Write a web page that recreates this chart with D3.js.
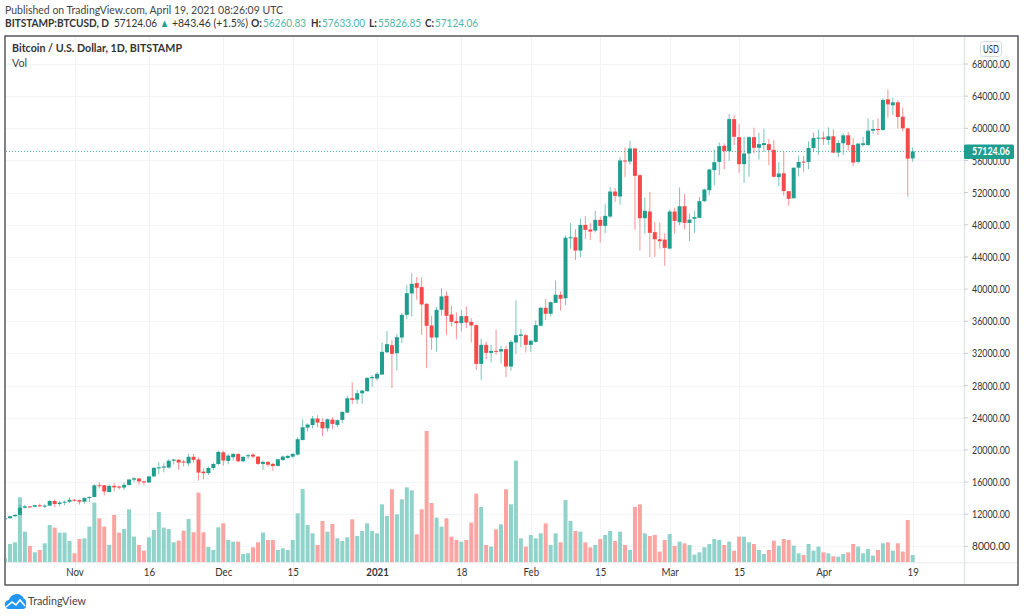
<!DOCTYPE html>
<html>
  <head>
    <meta charset="utf-8">
    <script src="https://d3js.org/d3.v7.min.js"></script>
    <style>
      html, body { margin: 0; background: #fff; }
      svg { display: block; font-family: Lato, "Noto Sans", sans-serif; }
      .axis path, .axis line { display: none; }
      .axis text { fill: #333; font-size: 11px; font-family: Lato, "Noto Sans", sans-serif; }
    </style>
  </head>
  <body>
    <div id="chart"></div>
    <script>
      // daily candles, 18 Oct 2020 to 19 Apr 2021
      var opens = [
        11400,11510,11750,11920,12810,12980,12930,13120,13030,13070,
        13650,13270,13450,13560,13800,13750,13560,14030,14150,15610,
        15600,14760,15530,15450,15320,15640,16300,16450,16090,15950,
        16700,17770,17800,17800,18650,18780,18560,18330,19150,18800,
        17300,17120,17750,18250,19700,18630,19090,19500,18590,19210,
        19420,19170,18260,18510,18260,18010,18750,19000,19170,19420,
        21240,22775,23100,23900,23480,22690,23770,23110,23730,24640,
        26430,26260,27050,27300,28920,28880,29370,32150,33030,32030,
        33980,36800,39460,40750,40250,38170,35480,33980,37430,39170,
        36850,36020,35770,36640,35930,35520,30700,33070,32070,32320,
        32240,32530,30370,33360,34190,34270,33070,33440,35440,37680,
        36930,38300,39300,38860,46400,46450,44800,47990,47410,47280,
        48610,47870,49030,52140,51520,56000,55880,57490,54170,48820,
        49650,47080,46200,46160,45040,49650,48320,50310,48240,48740,
        48860,50940,52310,54800,55830,57830,57160,61150,58900,55540,
        56870,58900,57580,57910,58030,57330,53930,54400,52180,51300,
        55100,55860,55820,57560,58720,58840,58550,59010,56980,58140,
        59130,57930,55820,57930,57930,59710,59920,59790,63600,62860,
        63230,61450,60000,56260.83
      ]
      var highs = [
        11550,11820,11990,13210,13190,13030,13170,13340,13250,13780,
        13850,13650,13700,14100,13890,13830,14080,14240,15750,15970,
        15650,15680,15880,15550,15950,16350,16600,16500,16180,16800,
        17850,18480,18350,18850,18900,18800,18770,19510,19510,19050,
        17720,17950,18420,19880,19900,19500,19590,19590,19250,19500,
        19590,19250,18670,18590,18420,18900,19300,19400,19600,21580,
        23810,23300,24230,24310,23900,23900,24100,23810,24810,26720,
        28420,27470,27470,29040,29290,29710,33360,34810,33690,34440,
        37010,40500,41990,41490,41490,38260,36680,37760,40120,39710,
        37930,37100,37430,37840,36390,35640,33860,33480,33070,34940,
        32950,32950,33690,38590,35020,34440,33700,36100,37760,38760,
        38460,41080,39710,46700,48200,47450,48780,49110,48200,49730,
        49030,50600,52680,52560,56410,57620,58450,57570,54260,51390,
        52100,48360,48280,46900,49900,50150,52640,51810,49400,49690,
        51480,52510,54960,57370,58240,58120,61770,61640,60520,58950,
        59030,60070,59440,59940,58660,58530,55790,57100,52220,55120,
        56600,56560,58390,59460,59830,59590,60120,59880,58550,59380,
        59540,58800,58140,58960,61240,61040,61240,63730,64840,63810,
        63480,62600,60080,57633
      ]
      var lows = [
        11350,11420,11680,11900,12710,12730,12880,12900,12780,13050,
        12900,12980,13120,13420,13600,13200,13300,13530,14100,15200,
        14340,14720,14850,15050,15030,15550,16000,15650,15650,15880,
        16650,16980,17200,17700,18200,17500,17950,17950,18400,16180,
        16350,16880,17500,18100,18050,18200,18670,18470,18470,18840,
        19000,18130,17510,17925,17390,17950,18600,18900,19000,19300,
        21160,22280,22690,22820,21740,22280,22570,22820,23320,24560,
        25680,25720,25760,27260,27800,28630,29370,32030,27675,29870,
        33280,36260,36600,38670,34310,30165,32450,32240,36720,34310,
        35350,33780,34730,35140,33360,29960,28710,31280,30870,31830,
        30780,29050,29870,31950,32780,32120,32200,33360,35350,36180,
        36600,38260,37340,37990,45000,43630,43960,46250,46120,47040,
        45790,46950,48820,50850,50480,53930,55500,47370,44800,46900,
        44000,44000,45040,42890,44960,46910,47950,47410,45990,47000,
        48860,50850,51680,52930,54170,54880,55920,57910,54460,53220,
        53970,56870,56120,57080,55420,53880,52800,51640,50400,51300,
        54000,54620,54910,57100,56690,57930,57930,56900,56400,56690,
        57230,55320,55650,57730,57810,59300,59170,59710,61320,61650,
        59960,59590,51510,55826.85
      ]
      var closes = [
        11510,11750,11920,12810,12980,12930,13120,13030,13070,13650,
        13270,13450,13560,13800,13750,13560,14030,14150,15590,15490,
        14830,15530,15340,15310,15650,16320,16470,16080,15950,16700,
        17770,17830,17940,18650,18800,18430,18430,19150,18760,17180,
        17100,17750,18250,19750,18680,19290,19500,18590,19130,19340,
        19170,18260,18510,18170,18000,18840,19170,19250,19500,21330,
        22820,23150,23900,23400,22690,23810,23230,23690,24730,26430,
        26220,27050,27380,28960,29080,29460,32200,33150,31950,34020,
        36800,39500,40660,40170,38090,35430,33980,37430,39090,36680,
        35930,35770,36640,35850,35480,30700,33070,32070,32320,32200,
        32530,30370,33440,34270,34360,33070,33570,35520,37680,36930,
        38380,39300,38800,46400,46450,44800,47990,47370,47160,48610,
        47870,49110,52140,51600,56000,55880,57490,54090,48820,49730,
        47000,46200,45960,45130,49650,48490,50310,48240,48650,48950,
        50940,52390,54880,55790,57780,57160,61150,58950,55540,56870,
        58900,57580,58030,58160,57290,53970,54380,52200,51230,55100,
        55820,55740,57560,58800,58840,58680,59010,56980,58180,59130,
        57930,55740,58100,58140,59710,59920,59790,63520,62980,63230,
        61410,60000,56230,57124.06
      ]
      // relative volume, own pane, no axis in the original
      var volumes = [
        12,55,60,195,92,49,30,37,57,112,
        104,89,89,64,27,70,72,107,179,132,
        107,52,142,89,100,159,77,52,35,75,
        97,151,104,100,60,65,95,130,90,209,
        90,46,37,105,117,67,62,62,25,27,
        45,60,89,67,67,37,42,37,67,147,
        220,112,87,52,124,92,115,72,64,75,
        129,79,94,117,94,87,174,139,219,144,
        189,225,216,84,159,394,178,134,107,132,
        77,67,62,67,119,206,166,52,47,99,
        114,219,174,305,72,47,82,72,87,117,
        52,87,60,187,124,94,92,60,45,52,
        70,82,94,64,92,52,37,166,174,87,
        79,82,32,67,85,49,62,57,52,23,
        30,45,55,70,67,52,62,35,77,77,
        60,55,37,25,37,65,50,70,67,50,
        27,22,55,35,47,30,27,18,17,25,
        30,55,47,27,40,20,37,57,60,35,
        57,32,127,22
      ]
      var priceTicks = [8000,12000,16000,20000,24000,28000,32000,36000,40000,44000,48000,52000,56000,60000,64000,68000]
      var timeTicks = ['2020-11-01','2020-11-16','2020-12-01','2020-12-15','2021-01-01','2021-01-18','2021-02-01','2021-02-15','2021-03-01','2021-03-15','2021-04-01','2021-04-19']
      var timeLabels = ['Nov','16','Dec','15','2021','18','Feb','15','Mar','15','Apr','19']
      var lastPrice = 57124.06

      var upColor = '#1f9e8f', downColor = '#f44a4a'
      var upVol = '#8fd3ca', downVol = '#fba5a3'
      var valueColor = '#4db6a9'
      var gridColor = '#f3f4f7'

      var width = 1024, height = 616
      var plotLeft = 6, plotRight = 964, plotTop = 37, plotBottom = 584, frameRight = 1017

      var parse = d3.utcParse('%Y-%m-%d')
      var days = d3.utcDay.range(parse('2020-10-18'), parse('2021-04-20'))

      var x = d3.scaleUtc().domain([parse('2020-11-01'), parse('2021-04-19')]).range([74.5, 912.7])
      var y = d3.scaleLinear().domain([8000, 68000]).range([546.4, 64])
      var yVol = d3.scaleLinear().domain([0, 394]).range([562.3, 431])

      // the original font is narrower than any installed one
      function squeeze(sel, f) {
        sel.each(function () {
          this.setAttribute('textLength', this.getComputedTextLength() * f)
          this.setAttribute('lengthAdjust', 'spacingAndGlyphs')
        })
      }
      function label(xPos, yPos, str, width, size, weight, fill) {
        var t = svg.append('text').attr('x', xPos).attr('y', yPos)
          .attr('font-size', size).attr('font-weight', weight).attr('fill', fill).text(str)
        if (width) t.attr('textLength', width).attr('lengthAdjust', 'spacingAndGlyphs')
        return t
      }

      var svg = d3.select('#chart').append('svg')
        .attr('width', width).attr('height', height)

      svg.append('defs').append('clipPath').attr('id', 'plot')
        .append('rect').attr('x', plotLeft).attr('y', plotTop)
        .attr('width', plotRight - plotLeft).attr('height', plotBottom - plotTop)

      // grid
      var grid = svg.append('g')
      grid.selectAll('.gy').data(priceTicks).enter().append('line')
        .attr('x1', plotLeft).attr('x2', plotRight)
        .attr('y1', function (d) { return Math.round(y(d)) + 0.5 })
        .attr('y2', function (d) { return Math.round(y(d)) + 0.5 })
        .attr('stroke', gridColor)
      grid.selectAll('.gx').data(timeTicks).enter().append('line')
        .attr('x1', function (d) { return Math.round(x(parse(d))) + 0.5 })
        .attr('x2', function (d) { return Math.round(x(parse(d))) + 0.5 })
        .attr('y1', plotTop).attr('y2', plotBottom)
        .attr('stroke', gridColor)

      var plot = svg.append('g').attr('clip-path', 'url(#plot)')

      // volume
      plot.selectAll('.vol').data(days).enter().append('rect')
        .attr('x', function (d) { return x(d) - 2 })
        .attr('width', 4)
        .attr('y', function (d, i) { return yVol(volumes[i]) })
        .attr('height', function (d, i) { return yVol(0) - yVol(volumes[i]) })
        .attr('fill', function (d, i) { return closes[i] >= opens[i] ? upVol : downVol })

      svg.append('line')
        .attr('x1', plotLeft).attr('x2', frameRight)
        .attr('y1', yVol(0) + 0.5).attr('y2', yVol(0) + 0.5)
        .attr('stroke', '#e8e9ec')

      // wicks
      plot.selectAll('.wick').data(days).enter().append('line')
        .attr('x1', function (d) { return x(d) }).attr('x2', function (d) { return x(d) })
        .attr('y1', function (d, i) { return y(highs[i]) })
        .attr('y2', function (d, i) { return y(lows[i]) })
        .attr('stroke', function (d, i) { return closes[i] >= opens[i] ? upColor : downColor })
        .attr('stroke-opacity', 0.6)
        .attr('stroke-width', 1)

      // bodies
      plot.selectAll('.body').data(days).enter().append('rect')
        .attr('x', function (d) { return x(d) - 2 })
        .attr('width', 4)
        .attr('y', function (d, i) { return y(Math.max(opens[i], closes[i])) })
        .attr('height', function (d, i) { return Math.max(1, Math.abs(y(opens[i]) - y(closes[i]))) })
        .attr('fill', function (d, i) { return closes[i] >= opens[i] ? upColor : downColor })

      // last price line
      svg.append('line')
        .attr('x1', plotLeft).attr('x2', plotRight)
        .attr('y1', y(lastPrice)).attr('y2', y(lastPrice))
        .attr('stroke', upColor).attr('stroke-width', 1)
        .attr('stroke-dasharray', '1,2').attr('opacity', 0.75)

      // axes
      svg.append('line').attr('x1', plotRight + 0.5).attr('x2', plotRight + 0.5)
        .attr('y1', plotTop).attr('y2', plotBottom).attr('stroke', '#e4e5e8').attr('stroke-width', 1.5)

      var yAxis = d3.axisRight(y).tickValues(priceTicks).tickFormat(d3.format('.2f')).tickSize(0).tickPadding(0)
      var yg = svg.append('g').attr('class', 'axis').attr('transform', 'translate(' + (plotRight + 8) + ',0)').call(yAxis)
      yg.selectAll('text').attr('textLength', 38).attr('lengthAdjust', 'spacingAndGlyphs')

      svg.selectAll('.ytick').data(priceTicks).enter().append('line')
        .attr('x1', plotRight).attr('x2', plotRight + 4)
        .attr('y1', function (d) { return y(d) }).attr('y2', function (d) { return y(d) })
        .attr('stroke', '#c9cbd0')

      var xAxis = d3.axisBottom(x).tickValues(timeTicks.map(parse))
        .tickFormat(function (d, i) { return timeLabels[i] }).tickSize(0).tickPadding(0)
      var xg = svg.append('g').attr('class', 'axis').attr('transform', 'translate(0,568)').call(xAxis)
      xg.selectAll('text').filter(function (d) { return +d == +parse('2021-01-01') }).attr('font-weight', 700)
      squeeze(xg.selectAll('text'), 0.88)

      // frame
      svg.append('rect').attr('x', 5).attr('y', 36)
        .attr('width', frameRight + 1 - 5).attr('height', 549)
        .attr('fill', 'none').attr('stroke', '#4b4d52').attr('stroke-width', 1.4)

      // USD button
      svg.append('rect').attr('x', 980.5).attr('y', 41.5).attr('width', 21).attr('height', 15).attr('rx', 3)
        .attr('fill', '#fff').attr('stroke', '#d8dae0')
      label(983, 53, 'USD', 16, 11, 400, '#333')

      // price tag
      svg.append('rect').attr('x', 964).attr('y', y(lastPrice) - 7).attr('width', 50).attr('height', 14.5).attr('rx', 1.5)
        .attr('fill', upColor)
      label(972, y(lastPrice) + 4, d3.format('.2f')(lastPrice), 38, 11, 700, '#fff')

      // header
      var textColor = '#333'
      label(5, 14, 'Published on TradingView.com, April 19, 2021 08:26:09 UTC', 278, 11.5, 400, '#444')
      label(5, 27, 'BITSTAMP:BTCUSD, D', 104, 11.5, 700, textColor)
      label(114, 27, '57124.06', 43, 11.5, 400, textColor)
      label(160, 27, '▲', 9, 11.5, 400, upColor)
      label(172, 27, '+843.46 (+1.5%)', 76, 11.5, 400, textColor)
      label(251, 27, 'O:', 11, 11.5, 700, textColor)
      label(263, 27, '56260.83', 43, 11.5, 400, valueColor)
      label(311, 27, 'H:', 10, 11.5, 700, textColor)
      label(322, 27, '57633.00', 43, 11.5, 400, valueColor)
      label(369, 27, 'L:', 8, 11.5, 700, textColor)
      label(378, 27, '55826.85', 43, 11.5, 400, valueColor)
      label(425, 27, 'C:', 9, 11.5, 700, textColor)
      label(435, 27, '57124.06', 43, 11.5, 400, valueColor)

      label(12, 52, 'Bitcoin / U.S. Dollar, 1D, BITSTAMP', 170, 11.5, 700, textColor)
      label(12, 67, 'Vol', 15, 11.5, 400, '#444')

      // logo
      var logo = svg.append('g').attr('transform', 'translate(5,594)')
      logo.append('path').attr('fill', '#2196f3')
        .attr('d', 'M0 12 C-1 8 2 6 4 6 C5 2 9 0 12 0 C15 0 18 2 19 5 C22 5 21 12 21 13 Q20 15 18 15 L3 15 Q1 15 0 12 Z')
      logo.append('path').attr('fill', 'none').attr('stroke', '#fff').attr('stroke-width', 1.6)
        .attr('d', 'M1 13 L7 8 L11 11 L15 6 L20 12')
      label(28, 605, 'TradingView', 58, 11.5, 400, '#444')
    </script>
  </body>
</html>
